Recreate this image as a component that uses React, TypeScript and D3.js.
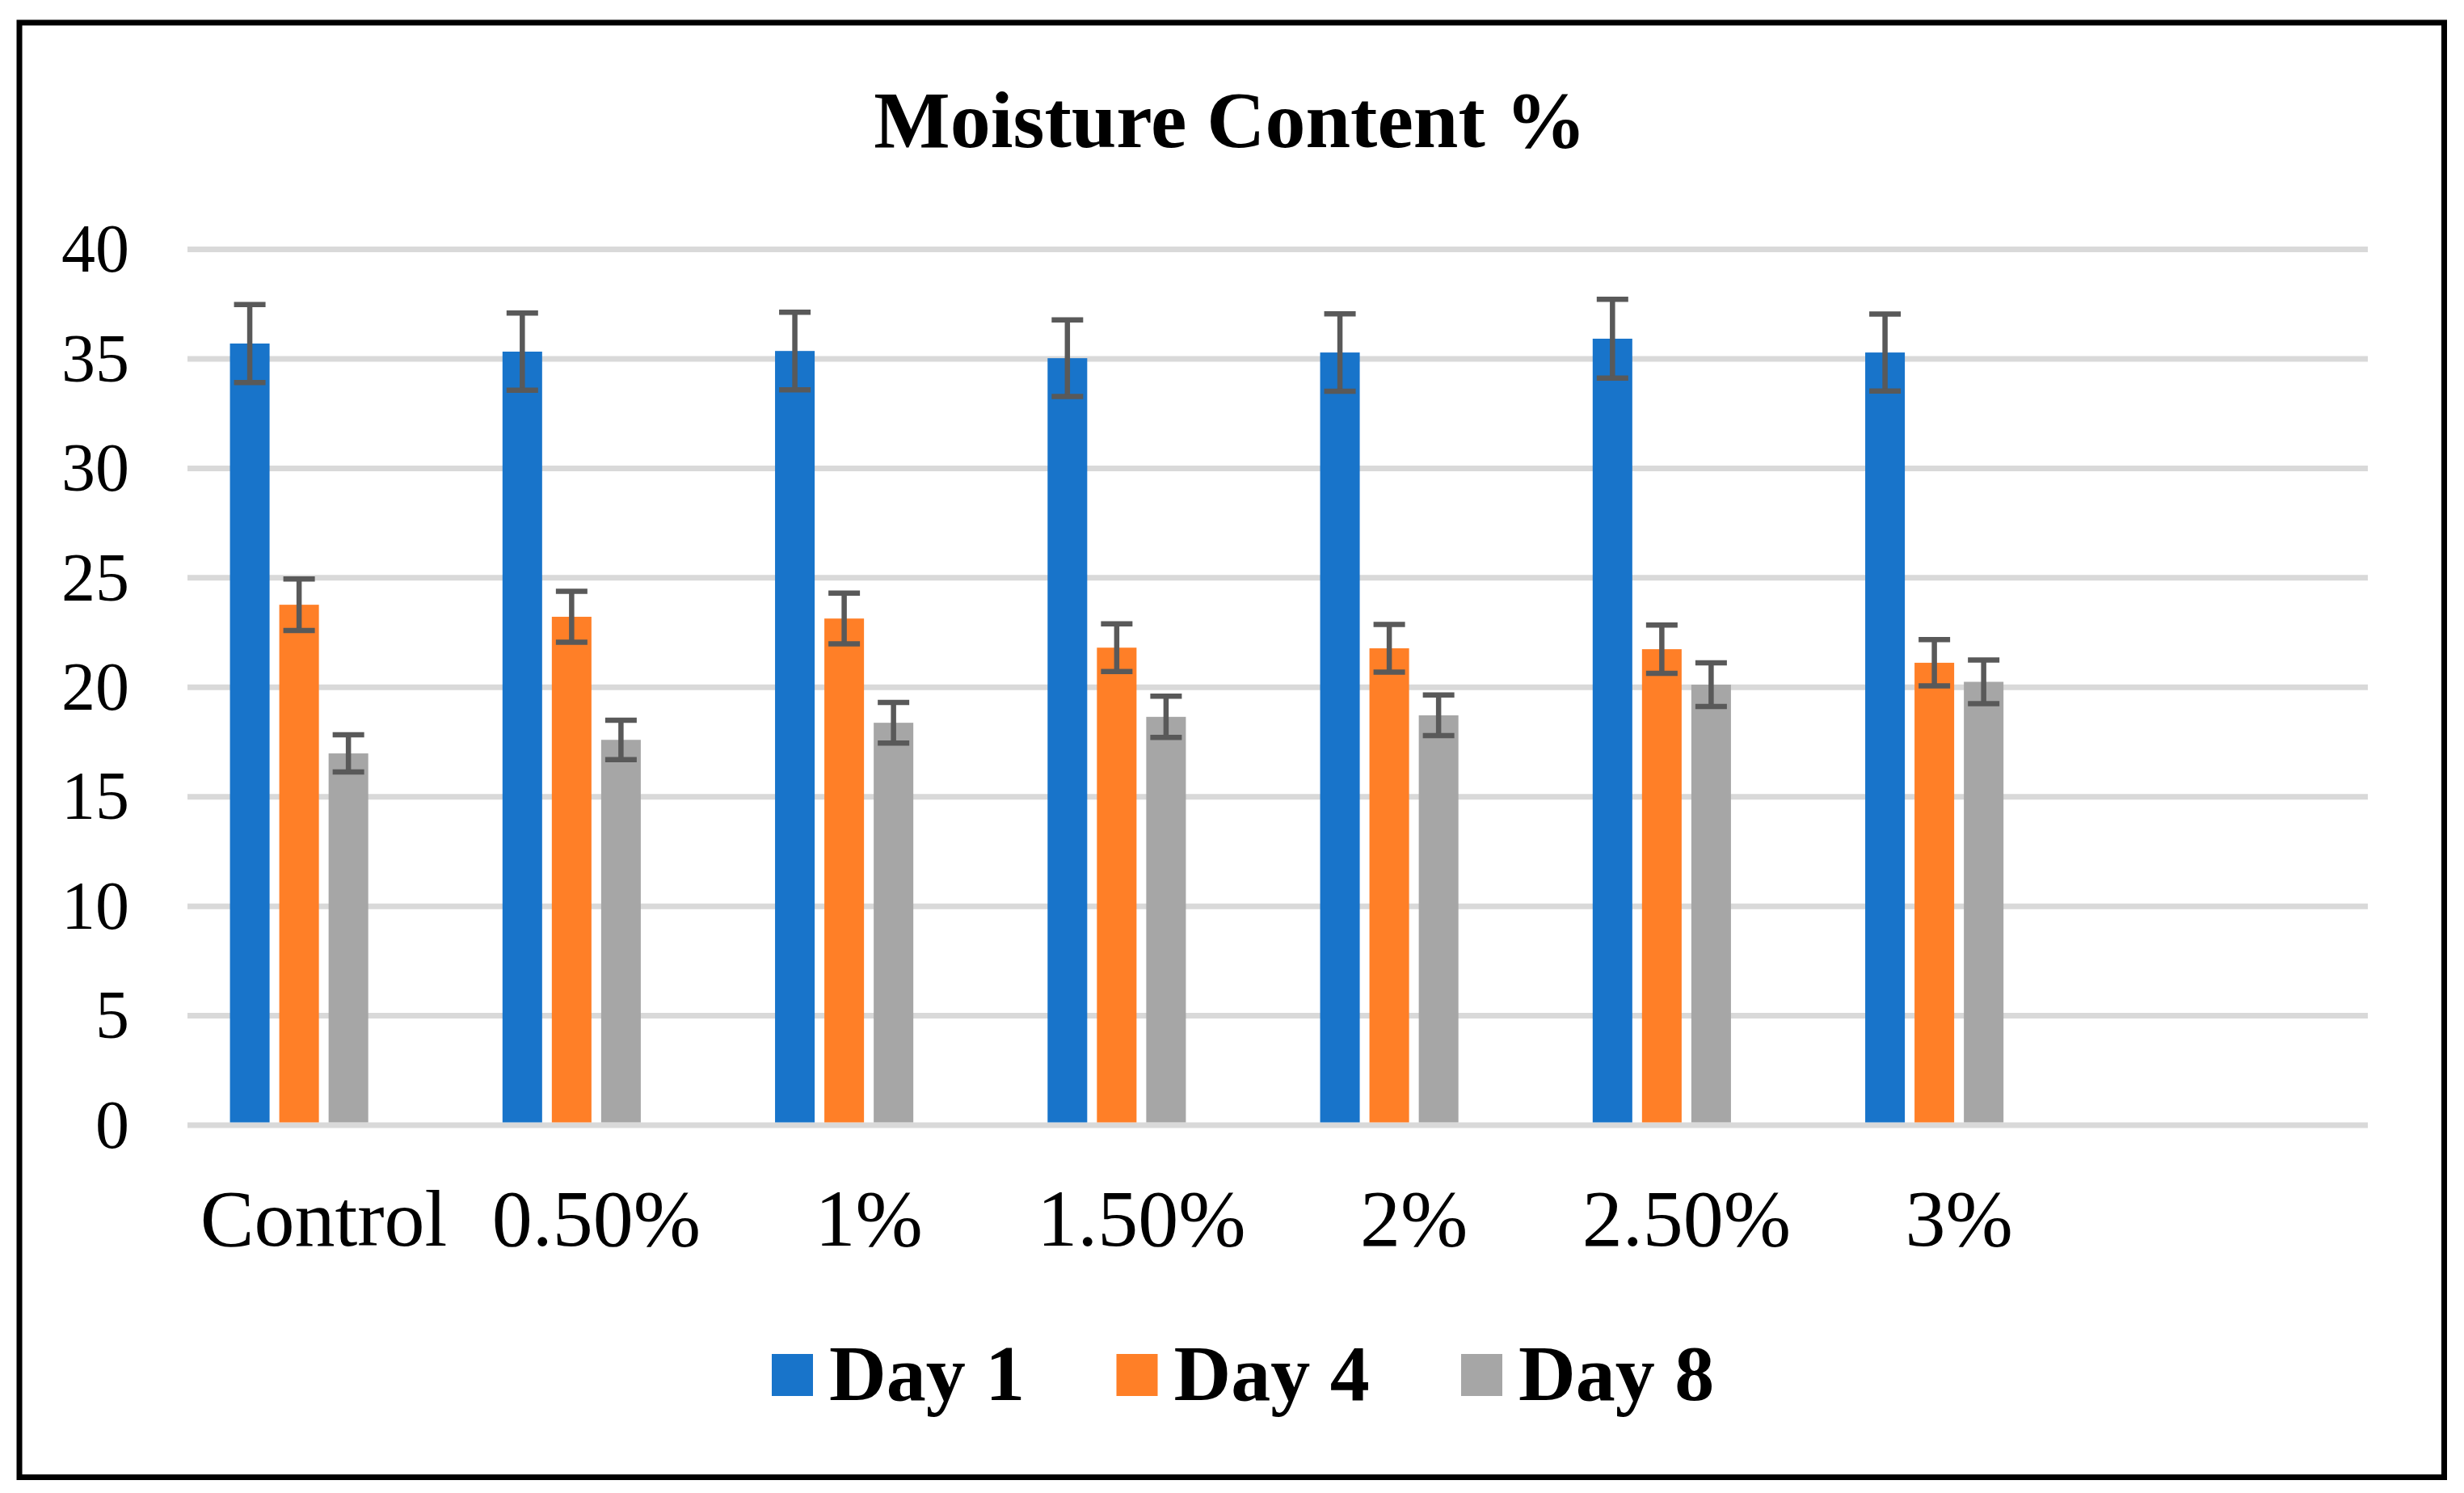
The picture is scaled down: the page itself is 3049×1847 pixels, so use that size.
import * as d3 from 'd3'

const categories = ['Control', '0.50%', '1%', '1.50%', '2%', '2.50%', '3%']
const seriesNames = ['Day 1', 'Day 4', 'Day 8']
const colors = ['#1874CA', '#FF7F27', '#A6A6A6']

const day1 = [35.7, 35.33, 35.36, 35.03, 35.29, 35.92, 35.29]
const day4 = [23.77, 23.22, 23.14, 21.81, 21.78, 21.74, 21.12]
const day8 = [16.98, 17.6, 18.38, 18.65, 18.72, 20.12, 20.25]

const day1Err = [1.78, 1.76, 1.77, 1.75, 1.77, 1.8, 1.76]
const day4Err = [1.18, 1.16, 1.16, 1.09, 1.09, 1.1, 1.06]
const day8Err = [0.85, 0.9, 0.93, 0.94, 0.93, 1.0, 1.0]

const yTicks = [0, 5, 10, 15, 20, 25, 30, 35, 40]

const W = 3049
const H = 1847
const serif = '"Liberation Serif", "Times New Roman", serif'

export default function App() {
  const values = [day1, day4, day8]
  const errors = [day1Err, day4Err, day8Err]

  // Excel leaves one empty category slot on the right and a 4th empty series slot
  const slots = [...categories, '']
  const x = d3.scaleBand<string>().domain(slots).range([232, 2930])
  const xs = d3.scaleBand<string>()
    .domain([...seriesNames, ''])
    .range([0, x.bandwidth()])
    .paddingInner(12 / 61)
    .paddingOuter(0.861)
  const y = d3.scaleLinear().domain([0, 40]).range([1392, 308.5])

  const bw = xs.bandwidth()
  const capW = 39

  return (
    <svg width={W} height={H} style={{ position: 'absolute', left: 0, top: 0, background: '#fff' }}>
      <rect x={0} y={0} width={W} height={H} fill="#fff" />
      <rect x={24} y={28} width={3000.5} height={1799.5} fill="none" stroke="#000" strokeWidth={7} />

      <text x={1522} y={182} textAnchor="middle" fontFamily={serif} fontWeight="bold" fontSize={100}>
        Moisture Content %
      </text>

      {yTicks.map(t => (
        <g key={t}>
          <line x1={232} x2={2930} y1={y(t)} y2={y(t)} stroke="#D9D9D9" strokeWidth={7} />
          <text x={160} y={y(t)} dy="0.33em" textAnchor="end" fontFamily={serif} fontSize={84}>{t}</text>
        </g>
      ))}

      {seriesNames.map((s, si) => (
        <g key={s}>
          {categories.map((c, ci) => {
            const v = values[si][ci]
            const e = errors[si][ci]
            const x0 = (x(c) ?? 0) + (xs(s) ?? 0)
            const cx = x0 + bw / 2
            return (
              <g key={c}>
                <rect x={x0} y={y(v)} width={bw} height={y(0) - y(v) - 3.5} fill={colors[si]} />
                <line x1={cx} x2={cx} y1={y(v + e)} y2={y(v - e)} stroke="#595959" strokeWidth={6.5} />
                <line x1={cx - capW / 2} x2={cx + capW / 2} y1={y(v + e)} y2={y(v + e)} stroke="#595959" strokeWidth={6.5} />
                <line x1={cx - capW / 2} x2={cx + capW / 2} y1={y(v - e)} y2={y(v - e)} stroke="#595959" strokeWidth={6.5} />
              </g>
            )
          })}
        </g>
      ))}

      {categories.map(c => (
        <text key={c} x={(x(c) ?? 0) + x.bandwidth() / 2} y={1541} textAnchor="middle" fontFamily={serif} fontSize={100}>
          {c}
        </text>
      ))}

      {seriesNames.map((s, i) => (
        <g key={s} transform={`translate(${955 + i * 426.5},0)`}>
          <rect x={0} y={1675} width={51} height={52} fill={colors[i]} />
          <text x={71} y={1732} fontFamily={serif} fontWeight="bold" fontSize={98}>{s}</text>
        </g>
      ))}
    </svg>
  )
}
